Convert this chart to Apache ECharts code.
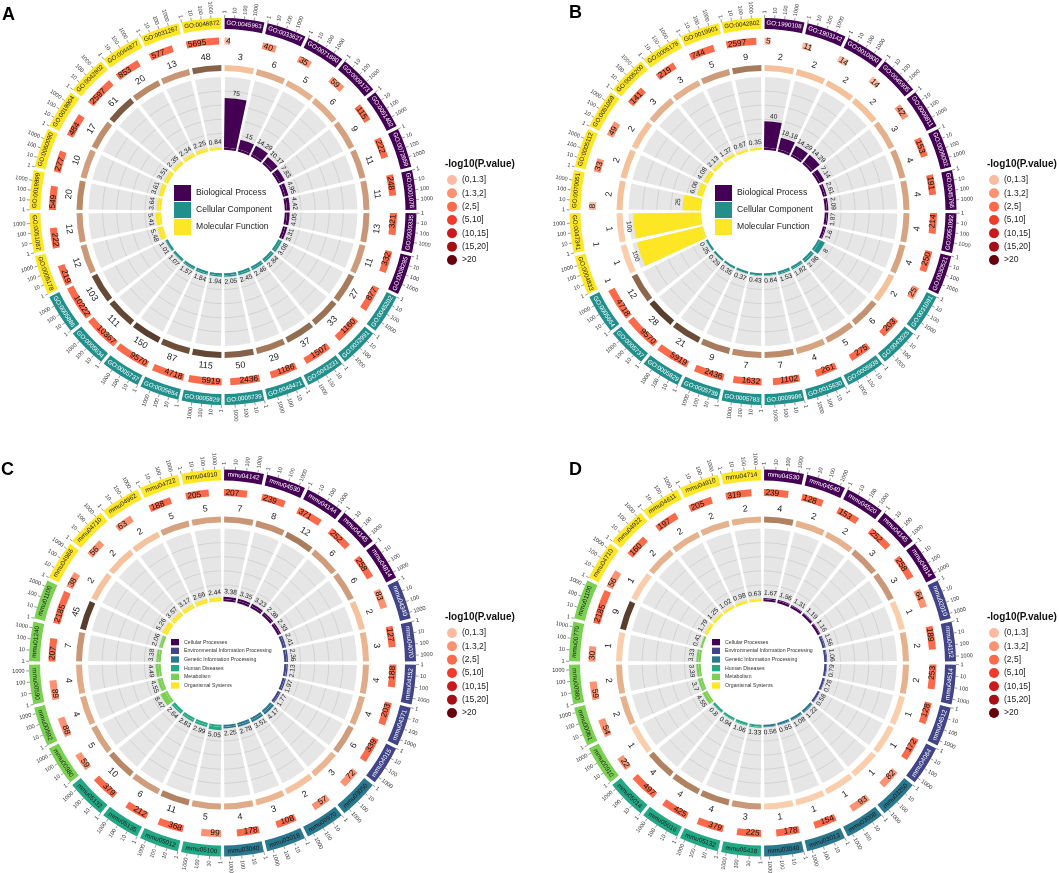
<!DOCTYPE html>
<html>
<head>
<meta charset="utf-8">
<title>GO / KEGG enrichment circos</title>
<script src="https://cdn.jsdelivr.net/npm/echarts@6.0.0/dist/echarts.min.js"></script>
<style>
  html, body { margin: 0; padding: 0; background: #fff; }
  #main { width: 1059px; height: 873px; }
</style>
</head>
<body>
<div id="main"></div>
<script>
var FONT = '"Liberation Sans", Arial, Helvetica, sans-serif';

// ---- shared legends / ticks ----
var goNames = ['Biological Process', 'Cellular Component', 'Molecular Function'];
var goColors = ['#440154', '#21908C', '#FDE725'];
var goTextColors = ['#ffffff', '#ffffff', '#1a1a1a'];
var keggNames = ['Cellular Processes', 'Environmental Information Processing', 'Genetic Information Processing',
                 'Human Diseases', 'Metabolism', 'Organismal Systems'];
var keggColors = ['#440154', '#414487', '#2A788E', '#22A884', '#7AD151', '#FDE725'];
var keggTextColors = ['#ffffff', '#ffffff', '#1a1a1a', '#1a1a1a', '#1a1a1a', '#1a1a1a'];
var pNames = ['(0,1.3]', '(1.3,2]', '(2,5]', '(5,10]', '(10,15]', '(15,20]', '>20'];
var pColors = ['#FCBBA1', '#FC9272', '#FB6A4A', '#EF3B2C', '#CB181D', '#A50F15', '#67000D'];
var tickValues = [1, 10, 100, 1000];
var tickLabels = ['1', '10', '100', '1000'];

// ---- panel A : GO ----
var idsA = ['GO:0045963','GO:0033627','GO:0071880','GO:0009173','GO:0051402','GO:0072659','GO:0001078','GO:0030335','GO:0008285',
            'GO:0045202','GO:0032991','GO:0043231','GO:0048471','GO:0005739','GO:0005829','GO:0005654','GO:0005737','GO:0005634','GO:0005886',
            'GO:0005178','GO:0051087','GO:0019899','GO:0060090','GO:0019904','GO:0042802','GO:0044877','GO:0031267','GO:0046872'];
var catA = [0,0,0,0,0,0,0,0,0, 1,1,1,1,1,1,1,1,1,1, 2,2,2,2,2,2,2,2,2];
var countA = [3,6,5,6,9,11,11,13,11, 27,33,37,29,50,115,87,150,111,103, 12,12,20,10,17,61,20,13,48];
var bgA = [4,40,35,59,115,222,248,321,332, 877,1160,1507,1186,2436,5919,4718,9570,10367,10222, 219,222,549,277,484,2597,853,577,5695];
var rfA = [75,15,14.29,10.17,7.83,4.95,4.42,4.05,3.31, 3.08,2.84,2.46,2.45,2.05,1.94,1.84,1.57,1.07,1.01, 5.48,5.41,3.64,3.61,3.51,2.35,2.34,2.25,0.84];
var pBinA = [0,1,1,1,2,2,2,2,2, 2,2,2,2,2,2,2,2,2,2, 2,2,2,2,2,2,2,2,2];

// ---- panel B : GO ----
var idsB = ['GO:1990108','GO:1903142','GO:0010800','GO:0045905','GO:0006811','GO:0006002','GO:0045766','GO:0051092','GO:0030521',
            'GO:0031091','GO:0043025','GO:0005938','GO:0015630','GO:0009986','GO:0005783','GO:0005739','GO:0005829','GO:0005737','GO:0005654',
            'GO:0004833','GO:0047341','GO:0070051','GO:0005112','GO:0051059','GO:0005200','GO:0005178','GO:0019901','GO:0042802'];
var catB = [0,0,0,0,0,0,0,0,0, 1,1,1,1,1,1,1,1,1,1, 2,2,2,2,2,2,2,2,2];
var countB = [2,2,2,2,3,4,4,4,4, 2,6,5,4,7,7,9,21,28,12, 1,1,2,2,2,3,3,5,9];
var bgB = [5,11,14,14,42,153,191,214,250, 25,203,275,261,1102,1632,2436,5919,9570,4718, 1,1,8,33,49,141,219,744,2597];
var rfB = [40,18.18,14.29,14.29,7.14,2.61,2.09,1.87,1.6, 8,2.96,1.82,1.53,0.64,0.43,0.37,0.35,0.29,0.25, 100,100,25,6.06,4.08,2.13,1.37,0.67,0.35];
var pBinB = [0,0,0,0,1,2,2,2,2, 1,2,2,2,2,2,2,2,2,2, 0,0,0,1,1,2,2,2,2];

// ---- panel C : KEGG ----
var idsC = ['mmu04142','mmu04530','mmu04144','mmu04145','mmu04814',
            'mmu04340','mmu04070','mmu04152','mmu04371','mmu04015',
            'mmu03050','mmu00970','mmu03018','mmu03040',
            'mmu05100','mmu05012','mmu05135','mmu05132',
            'mmu00980','mmu00592','mmu00590','mmu01240','mmu01100',
            'mmu04966','mmu04710','mmu04962','mmu04722','mmu04910'];
var catC = [0,0,0,0,0, 1,1,1,1,1, 2,2,2,2, 3,3,3,3, 4,4,4,4,4, 5,5,5,5,5];
var countC = [7,8,12,6,6, 2,3,4,4,6, 3,2,3,4, 5,11,6,10, 5,4,4,7,45, 2,2,2,5,5];
var bgC = [207,239,371,252,258, 83,127,188,203,339, 72,57,108,178, 99,368,212,379, 59,88,89,207,2185, 38,56,63,188,205];
var rfC = [3.38,3.35,3.23,2.38,2.33, 2.41,2.36,2.13,1.97,1.77, 4.17,3.51,2.78,2.25, 5.05,2.99,2.83,2.64, 8.47,4.55,4.49,3.38,2.06, 5.26,3.57,3.17,2.66,2.44];
var pBinC = [2,2,2,2,2, 1,2,2,2,2, 1,1,2,2, 1,2,2,2, 1,1,1,2,2, 1,1,1,2,2];

// ---- panel D : KEGG ----
var idsD = ['mmu04530','mmu04540','mmu04520','mmu04145','mmu04814',
            'mmu02010','mmu04152','mmu04514','mmu04512','mmu04064',
            'mmu03250','mmu03008','mmu03013','mmu03040',
            'mmu05418','mmu05132','mmu05016','mmu05014',
            'mmu00910','mmu00061','mmu00980','mmu00770','mmu01100',
            'mmu04710','mmu04922','mmu04611','mmu04910','mmu04714'];
var catD = [0,0,0,0,0, 1,1,1,1,1, 2,2,2,2, 3,3,3,3, 4,4,4,4,4, 5,5,5,5,5];
var countD = [4,2,2,3,3, 1,2,2,1,1, 1,1,1,1, 3,4,4,4, 1,2,2,1,9, 1,2,2,2,2];
var bgD = [239,128,153,252,258, 64,189,253,128,172, 82,93,154,178, 225,379,425,497, 22,54,59,30,2185, 56,160,197,205,319];
var rfD = [1.67,1.56,1.31,1.19,1.16, 1.56,1.06,0.79,0.78,0.58, 1.22,1.08,0.65,0.56, 1.33,1.06,0.94,0.8, 4.55,3.7,3.39,3.33,0.41, 1.79,1.25,1.02,0.98,0.63];
var pBinD = [2,2,2,2,2, 1,2,2,2,2, 1,1,2,2, 2,2,2,2, 1,1,1,1,2, 1,2,2,2,2];

var RF_MAX = 107;      // rich factor axis max
var OUT_MAX = 215;     // outer polar radius (1 unit = 1px)

var panels = [
  {ids: idsA, cat: catA, count: countA, bg: bgA, rf: rfA, pbin: pBinA, colors: goColors, textColors: goTextColors,
   cx: 223, cy: 211.5, logMax: 4.05, idFont: 6.2},
  {ids: idsB, cat: catB, count: countB, bg: bgB, rf: rfB, pbin: pBinB, colors: goColors, textColors: goTextColors,
   cx: 763, cy: 211.5, logMax: 4.0, idFont: 6.2},
  {ids: idsC, cat: catC, count: countC, bg: bgC, rf: rfC, pbin: pBinC, colors: keggColors, textColors: keggTextColors,
   cx: 222.5, cy: 663, logMax: 3.55, idFont: 6.4},
  {ids: idsD, cat: catD, count: countD, bg: bgD, rf: rfD, pbin: pBinD, colors: keggColors, textColors: keggTextColors,
   cx: 762.5, cy: 663, logMax: 3.45, idFont: 6.4}
];

// count ring colour ramp (light peach -> dark brown), log scaled
var brownStops = [
  [0.0, [250, 206, 172]],
  [0.22, [245, 192, 154]],
  [0.5, [202, 152, 120]],
  [0.6, [186, 137, 102]],
  [0.72, [146, 108, 81]],
  [0.85, [116, 84, 61]],
  [1.0, [90, 62, 45]]
];
function brownColor(c, maxC) {
  var t = maxC > 1 ? Math.log(c) / Math.log(maxC) : 0;
  t = Math.max(0, Math.min(1, t));
  for (var k = 1; k < brownStops.length; k++) {
    if (t <= brownStops[k][0]) {
      var a = brownStops[k - 1], b = brownStops[k];
      var u = (t - a[0]) / (b[0] - a[0]);
      var rgb = [0, 1, 2].map(function (j) { return Math.round(a[1][j] + (b[1][j] - a[1][j]) * u); });
      return 'rgb(' + rgb.join(',') + ')';
    }
  }
  return 'rgb(90,62,45)';
}

// geometry helper built on the polar coordinate system of a custom series
function geo(params, api, refVal, n) {
  var cs = params.coordSys;
  var upr = n / (2 * Math.PI);
  var g = {
    cx: cs.cx, cy: cs.cy,
    ang: function (a) {
      var p = api.coord([refVal, a]);
      return Math.atan2(p[1] - cs.cy, p[0] - cs.cx);
    },
    rad: function (v) {
      var p = api.coord([v, 0]);
      return Math.sqrt((p[0] - cs.cx) * (p[0] - cs.cx) + (p[1] - cs.cy) * (p[1] - cs.cy));
    },
    pt: function (r, a) {
      var t = g.ang(a);
      return [cs.cx + r * Math.cos(t), cs.cy + r * Math.sin(t)];
    },
    padU: function (px, r) { return px / r * upr; },
    span: function (a0, a1) {
      var s = g.ang(a0), e = g.ang(a1);
      while (e <= s) e += 2 * Math.PI;
      return [s, e];
    },
    sector: function (a0, a1, r0, r1, fill) {
      var se = g.span(a0, a1);
      return {type: 'sector', silent: true,
        shape: {cx: cs.cx, cy: cs.cy, r0: r0, r: r1, startAngle: se[0], endAngle: se[1], clockwise: true},
        style: {fill: fill}};
    },
    arc: function (a0, a1, r, stroke, w) {
      var se = g.span(a0, a1);
      return {type: 'arc', silent: true,
        shape: {cx: cs.cx, cy: cs.cy, r: r, startAngle: se[0], endAngle: se[1], clockwise: true},
        style: {stroke: stroke, lineWidth: w, fill: null}};
    }
  };
  return g;
}

function degOf(t) { return ((t * 180 / Math.PI + 90) % 360 + 360) % 360; }

// text running along the circle, flipped on the lower half
function tangText(g, r, a, aRot, str, size, color, anchor) {
  var deg = degOf(g.ang(aRot));
  var flip = deg > 90 && deg < 270;
  var cw = flip ? deg - 180 : deg;
  var p = g.pt(r, a);
  var align = anchor === 'start' ? (flip ? 'right' : 'left') : 'center';
  return {type: 'text', silent: true, x: p[0], y: p[1], rotation: -cw * Math.PI / 180,
    style: {text: str, fontSize: size, fontFamily: FONT, fill: color, align: align, verticalAlign: 'middle'}};
}

// text pointing outward along the radius
function radialText(g, r, a, str, size, color) {
  var deg = degOf(g.ang(a));
  var right = deg < 180;
  var cw = right ? deg - 90 : deg - 270;
  var p = g.pt(r, a);
  return {type: 'text', silent: true, x: p[0], y: p[1], rotation: -cw * Math.PI / 180,
    style: {text: str, fontSize: size, fontFamily: FONT, fill: color, align: right ? 'left' : 'right', verticalAlign: 'middle'}};
}

function innerRender(pn) {
  var n = pn.ids.length;
  return function (params, api) {
    var g = geo(params, api, RF_MAX, n);
    var i = api.value(0), v = api.value(1), c = api.value(2);
    var r0 = g.rad(0), r1 = g.rad(RF_MAX);
    var pg = g.padU(1.5, (r0 + r1) / 2);
    var a0 = i + pg, a1 = i + 1 - pg;
    var col = pn.colors[c];
    var ch = [];
    ch.push(g.sector(a0, a1, r0 - 2.2, r0, col));
    ch.push(g.sector(a0, a1, r0, r1, '#e6e6e6'));
    for (var k = 1; k <= 4; k++) {
      ch.push(g.arc(a0, a1, g.rad(RF_MAX * k / 5), '#c8c8c8', 0.7));
    }
    ch.push(g.sector(a0, a1, r0, g.rad(v), col));
    ch.push(tangText(g, g.rad(v) + 5, i + 0.5, i + 0.5, String(v), 6.6, '#222', 'center'));
    return {type: 'group', children: ch};
  };
}

function outerRender(pn) {
  var n = pn.ids.length;
  var maxC = Math.max.apply(null, pn.count);
  return function (params, api) {
    var g = geo(params, api, 200, n);
    var i = api.value(0), cnt = api.value(1), bg = api.value(2), pb = api.value(3), c = api.value(4);
    var ch = [];
    // DEG count ring
    var pc = g.padU(1.6, 144);
    ch.push(g.sector(i + pc, i + 1 - pc, g.rad(140.5), g.rad(146.5), brownColor(cnt, maxC)));
    ch.push(tangText(g, g.rad(155), i + 0.5, i + 0.5, String(cnt), 9, '#222', 'center'));
    // background gene number (log scale inside the sector)
    var pad = g.padU(1.6, 188);
    var w = 1 - 2 * pad;
    var frac = Math.min(1, Math.log(bg) / Math.LN10 / pn.logMax);
    if (frac > 0) ch.push(g.sector(i + pad, i + pad + w * frac, g.rad(167), g.rad(174), pColors[pb]));
    ch.push(tangText(g, g.rad(170.5), i + pad + g.padU(1.5, 170), i + 0.5, String(bg), 8.3, '#111', 'start'));
    // term id box
    ch.push(g.sector(i + pad, i + 1 - pad, g.rad(182.5), g.rad(193.5), pn.colors[c]));
    ch.push(tangText(g, g.rad(188), i + 0.5, i + 0.5, pn.ids[i], pn.idFont, pn.textColors[c], 'center'));
    // log axis ticks
    for (var k = 0; k < tickValues.length; k++) {
      var a = i + pad + w * (Math.log(tickValues[k]) / Math.LN10) / pn.logMax;
      var p1 = g.pt(g.rad(193.5), a), p2 = g.pt(g.rad(196.5), a);
      ch.push({type: 'line', silent: true, shape: {x1: p1[0], y1: p1[1], x2: p2[0], y2: p2[1]},
        style: {stroke: '#555', lineWidth: 0.6}});
      ch.push(radialText(g, g.rad(198), a, tickLabels[k], 5.6, '#333'));
    }
    return {type: 'group', children: ch};
  };
}

var polar = [], angleAxis = [], radiusAxis = [], series = [];
panels.forEach(function (pn, k) {
  var n = pn.ids.length;
  polar.push({center: [pn.cx, pn.cy], radius: [64, 134.5]});
  polar.push({center: [pn.cx, pn.cy], radius: [0, OUT_MAX]});
  angleAxis.push({polarIndex: 2 * k, type: 'value', min: 0, max: n, startAngle: 90, clockwise: true, show: false});
  angleAxis.push({polarIndex: 2 * k + 1, type: 'value', min: 0, max: n, startAngle: 90, clockwise: true, show: false});
  radiusAxis.push({polarIndex: 2 * k, type: 'value', min: 0, max: RF_MAX, show: false});
  radiusAxis.push({polarIndex: 2 * k + 1, type: 'value', min: 0, max: OUT_MAX, show: false});
  series.push({
    type: 'custom', coordinateSystem: 'polar', polarIndex: 2 * k, silent: true,
    encode: {angle: 0, radius: 1},
    data: pn.rf.map(function (v, i) { return [i, v, pn.cat[i]]; }),
    renderItem: innerRender(pn)
  });
  series.push({
    type: 'custom', coordinateSystem: 'polar', polarIndex: 2 * k + 1, silent: true,
    encode: {angle: 0, radius: 1},
    data: pn.ids.map(function (id, i) { return [i, pn.count[i], pn.bg[i], pn.pbin[i], pn.cat[i]]; }),
    renderItem: outerRender(pn)
  });
});

// empty series that only feed the legends
function legendSeries(names, colors) {
  names.forEach(function (nm, i) {
    series.push({type: 'custom', name: nm, coordinateSystem: 'none', data: [],
      renderItem: function () { return null; }, itemStyle: {color: colors[i]}});
  });
}
legendSeries(pNames, pColors);
legendSeries(goNames, goColors);
legendSeries(keggNames, keggColors);

function pLegend(left, top) {
  return {orient: 'vertical', left: left, top: top, padding: 0, icon: 'circle', itemWidth: 10, itemHeight: 10,
    itemGap: 3.33, selectedMode: false, data: pNames,
    textStyle: {fontSize: 8.5, lineHeight: 10, color: '#222', fontFamily: FONT}};
}
function goLegend(left, top) {
  return {orient: 'vertical', left: left, top: top, padding: 0, icon: 'rect', itemWidth: 17, itemHeight: 16,
    itemGap: 1, selectedMode: false, data: goNames,
    textStyle: {fontSize: 8.6, lineHeight: 16, color: '#222', fontFamily: FONT}};
}
function keggLegend(left, top) {
  return {orient: 'vertical', left: left, top: top, padding: 0, icon: 'rect', itemWidth: 8, itemHeight: 6.3,
    itemGap: 2.37, selectedMode: false, data: keggNames,
    textStyle: {fontSize: 5.2, lineHeight: 6.3, color: '#333', fontFamily: FONT}};
}

function letter(t, left, top) {
  return {text: t, left: left, top: top, padding: 0,
    textStyle: {fontSize: 18, fontWeight: 'bold', color: '#000', fontFamily: FONT}};
}
function pTitle(left, top) {
  return {text: '-log10(P.value)', left: left, top: top, padding: 0,
    textStyle: {fontSize: 10, fontWeight: 'bold', color: '#111', fontFamily: FONT}};
}

var option = {
  backgroundColor: '#ffffff',
  animation: false,
  title: [
    letter('A', 2, 6), letter('B', 569, 4), letter('C', 1, 461), letter('D', 569, 461),
    pTitle(445, 159), pTitle(987, 159), pTitle(445, 612), pTitle(987, 612)
  ],
  legend: [
    pLegend(447, 175), pLegend(989, 175), pLegend(447, 628), pLegend(989, 628),
    goLegend(174, 185), goLegend(715, 185),
    keggLegend(171, 639), keggLegend(712, 639)
  ],
  polar: polar,
  angleAxis: angleAxis,
  radiusAxis: radiusAxis,
  series: series
};

var myChart = echarts.init(document.getElementById('main'));
myChart.setOption(option);
</script>
</body>
</html>
